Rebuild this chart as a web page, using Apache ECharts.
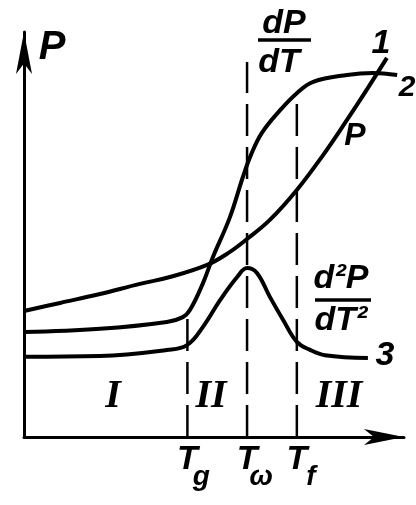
<!DOCTYPE html>
<html>
<head>
<meta charset="utf-8">
<script src="https://cdn.jsdelivr.net/npm/echarts@6/dist/echarts.min.js"></script>
<style>
  html, body { margin: 0; padding: 0; background: #fff; }
  #chart { width: 416px; height: 505px; }
</style>
</head>
<body>
<div id="chart"></div>
<script>
// T and P in relative units (0..100)
var curveP = [[0, 31.1], [9.5, 33.1], [20, 35.3], [30.5, 37.8], [38.4, 39.5], [48.2, 42.5], [53.7, 45.4],
  [58.7, 48.9], [64.7, 53.6], [71.8, 61], [78.7, 69.6], [85, 78.3], [90.3, 85.9], [95.5, 93.6]]
var curveDP = [[0, 25.9], [20, 26.7], [37.6, 28.4], [41.8, 29.6], [43.7, 31.4], [47.1, 38], [49.7, 44.4],
  [54.2, 54.3], [57.6, 64.2], [59.7, 69.6], [62.6, 75.1], [67.4, 80.7], [71.8, 84.9], [76.1, 87.7],
  [85, 89.4], [91.8, 89.9], [98.2, 89.4]]
var curveD2P = [[0, 19.8], [20, 20], [37.6, 21.5], [42.9, 22.7], [47.1, 27.2], [51.6, 33.8], [56.1, 39.5],
  [58.7, 41.7], [61.3, 40.5], [64.7, 34.6], [68.2, 28.9], [71.8, 23.5], [75.3, 21.5], [79.2, 20.2],
  [90.5, 19.5]]
var tSubs = ['g', 'ω', 'f']
var tValues = [43, 58.7, 71.8]
var tTops = [30.9, 92.6, 84]
var zones = ['I', 'II', 'III']

var FONT = '"Liberation Sans", sans-serif'
var chart = echarts.init(document.getElementById('chart'))

function curve(data) {
  return {
    type: 'line',
    data: data,
    smooth: 0.4,
    symbol: 'none',
    silent: true,
    lineStyle: { color: '#000', width: 4 }
  }
}

var series = [curve(curveP), curve(curveDP), curve(curveD2P)]
tValues.forEach(function (t, i) {
  series.push({
    type: 'line',
    data: [[t, 0], [t, tTops[i]]],
    symbol: 'none',
    silent: true,
    lineStyle: { color: '#000', width: 2.5, type: [32, 11] }
  })
})

function txt(str, x, y, size, font) {
  return {
    type: 'text',
    x: x,
    y: y,
    style: {
      text: str,
      fill: '#000',
      align: 'center',
      verticalAlign: 'middle',
      font: font || ('italic bold ' + size + 'px ' + FONT)
    }
  }
}

function bar(x1, x2, y) {
  return {
    type: 'line',
    shape: { x1: x1, y1: y, x2: x2, y2: y },
    style: { stroke: '#000', lineWidth: 3.5 }
  }
}

chart.setOption({
  animation: false,
  grid: { left: 24, right: 12, top: 32, bottom: 68 },
  xAxis: {
    type: 'value',
    min: 0,
    max: 100,
    splitLine: { show: false },
    axisTick: { show: false },
    axisLabel: { show: false },
    axisLine: {
      onZero: false,
      lineStyle: { color: '#000', width: 3 },
      symbol: ['none', 'arrow'],
      symbolSize: [12, 40]
    }
  },
  yAxis: {
    type: 'value',
    min: 0,
    max: 100,
    splitLine: { show: false },
    axisTick: { show: false },
    axisLabel: { show: false },
    axisLine: {
      show: true,
      onZero: false,
      lineStyle: { color: '#000', width: 3 },
      symbol: ['none', 'arrow'],
      symbolSize: [12, 42]
    }
  },
  series: series
})

var g = [
  txt('P', 52, 48, 40),
  txt('dP', 284, 24, 34),
  bar(258, 311, 40),
  txt('dT', 279, 63, 34),
  txt('1', 381, 44, 34),
  txt('2', 407, 88, 30),
  txt('P', 355, 136, 32),
  txt('d²P', 341, 279, 34),
  bar(315, 371, 300),
  txt('dT²', 341, 321, 34),
  txt('3', 385, 356, 34)
]
// zone numerals between the T marks
var zoneX = [113, 211, 339]
zones.forEach(function (z, i) {
  g.push(txt(z, zoneX[i], 397, 40, 'italic bold 40px "Liberation Serif", serif'))
})
tValues.forEach(function (t, i) {
  var px = chart.convertToPixel({ gridIndex: 0 }, [t, 0])
  g.push(txt('T', px[0], px[1] + 23, 34))
  g.push(txt(tSubs[i], px[0] + 14, px[1] + 40, 28))
})
chart.setOption({ graphic: g })

window.addEventListener('resize', function () {
  chart.resize()
})
</script>
</body>
</html>
